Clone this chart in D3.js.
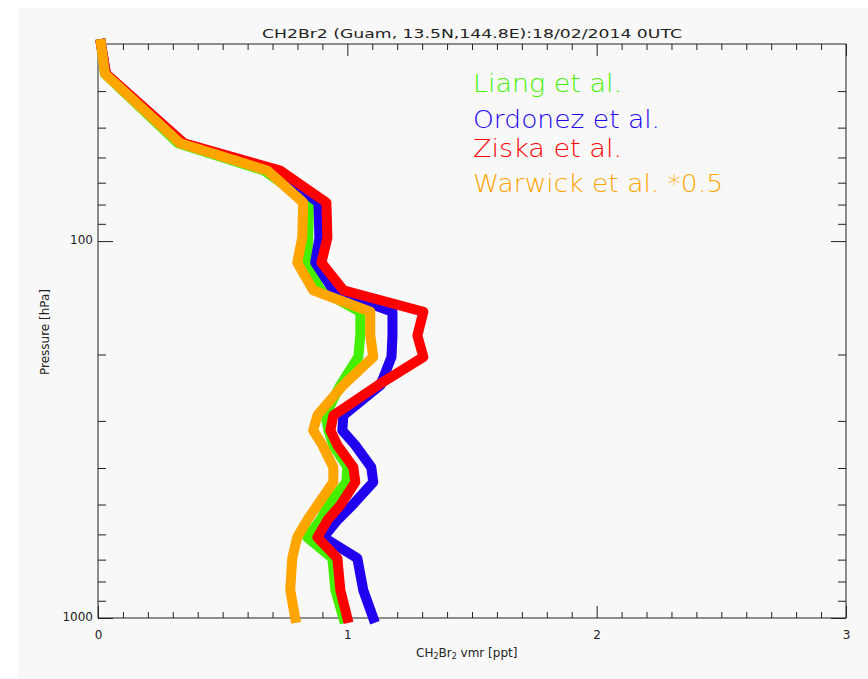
<!DOCTYPE html>
<html>
<head>
<meta charset="utf-8">
<script src="https://cdn.jsdelivr.net/npm/d3@7"></script>
<style>
  html, body { margin: 0; padding: 0; background: #ffffff; }
  svg { display: block; }
  text { font-family: "DejaVu Sans", sans-serif; fill: #222; }
</style>
</head>
<body>
<svg id="chart" width="868" height="679"></svg>
<script>
// Model pressure levels (hPa), top to bottom
const pressure = [30, 36, 55, 65, 79, 98, 114, 135, 154, 178, 203, 241, 290, 318, 348, 398, 436, 502, 550, 611, 694, 844, 1000];

// CH2Br2 volume mixing ratio profiles (ppt) at each level
const liang   = [0.012, 0.028, 0.321, 0.667, 0.847, 0.843, 0.839, 0.892, 1.052, 1.052, 1.044, 0.972, 0.912, 0.924, 0.944, 1.000, 0.996, 0.924, 0.892, 0.839, 0.940, 0.952, 0.984];
const ordonez = [0.012, 0.032, 0.341, 0.711, 0.884, 0.888, 0.871, 0.944, 1.181, 1.181, 1.177, 1.133, 0.984, 0.980, 1.032, 1.096, 1.104, 1.020, 0.960, 0.904, 1.040, 1.064, 1.104];
const ziska   = [0.012, 0.032, 0.345, 0.731, 0.916, 0.920, 0.896, 0.984, 1.305, 1.281, 1.305, 1.124, 0.944, 0.932, 0.960, 1.024, 1.032, 0.972, 0.920, 0.880, 0.960, 0.972, 1.000];
// Warwick profile already multiplied by 0.5
const warwickHalf = [0.012, 0.028, 0.329, 0.679, 0.823, 0.819, 0.799, 0.863, 1.092, 1.092, 1.104, 0.984, 0.880, 0.863, 0.900, 0.944, 0.944, 0.880, 0.839, 0.799, 0.779, 0.771, 0.791];

const seriesNames  = ["Liang et al.", "Ordonez et al.", "Ziska et al.", "Warwick et al. *0.5"];
const seriesColors = ["#44f000", "#2000ee", "#ff0000", "#ffa500"];
const seriesValues = [liang, ordonez, ziska, warwickHalf];

const xMajorTicks = [0, 1, 2, 3];
const xMinorTicks = d3.range(0, 31).filter(i => i % 10 !== 0).map(i => i / 10);
const yMajorTicks = [100, 1000];
const yMinorTicks = [40, 50, 60, 70, 80, 90, 200, 300, 400, 500, 600, 700, 800, 900];

const titleText = "CH2Br2 (Guam, 13.5N,144.8E):18/02/2014 0UTC";

const svg = d3.select("#chart");

// light grey canvas
svg.append("rect").attr("x", 18).attr("y", 8).attr("width", 850).attr("height", 671).attr("fill", "#f8f8f8");

const plot = { left: 98, right: 846, top: 44, bottom: 618 };
const x = d3.scaleLinear().domain([0, 3]).range([plot.left, plot.right]);
const y = d3.scaleLog().domain([30, 1000]).range([plot.top, plot.bottom]);

const axisColor = "#222";
function styleAxis(g, withLabels) {
  g.select(".domain").remove();
  g.selectAll(".tick line").attr("stroke", axisColor).attr("stroke-width", 1);
  g.selectAll(".tick text").attr("font-size", 12).attr("fill", axisColor)
   .attr("font-family", "DejaVu Sans, sans-serif");
  if (!withLabels) g.selectAll(".tick text").remove();
}

// bottom axis
svg.append("g").attr("transform", `translate(0,${plot.bottom})`)
  .call(d3.axisBottom(x).tickValues(xMajorTicks).tickSize(-12).tickPadding(12).tickFormat(d3.format("d")))
  .call(g => styleAxis(g, true));
svg.append("g").attr("transform", `translate(0,${plot.bottom})`)
  .call(d3.axisBottom(x).tickValues(xMinorTicks).tickSize(-6))
  .call(g => styleAxis(g, false));
// top axis
svg.append("g").attr("transform", `translate(0,${plot.top})`)
  .call(d3.axisTop(x).tickValues(xMajorTicks).tickSize(-12))
  .call(g => styleAxis(g, false));
svg.append("g").attr("transform", `translate(0,${plot.top})`)
  .call(d3.axisTop(x).tickValues(xMinorTicks).tickSize(-6))
  .call(g => styleAxis(g, false));
// left axis
svg.append("g").attr("transform", `translate(${plot.left},0)`)
  .call(d3.axisLeft(y).tickValues(yMajorTicks).tickSize(-15).tickPadding(5).tickFormat(d3.format("d")))
  .call(g => styleAxis(g, true))
  .call(g => g.selectAll(".tick text").attr("dy", "0.2em"));
svg.append("g").attr("transform", `translate(${plot.left},0)`)
  .call(d3.axisLeft(y).tickValues(yMinorTicks).tickSize(-8))
  .call(g => styleAxis(g, false));
// right axis
svg.append("g").attr("transform", `translate(${plot.right},0)`)
  .call(d3.axisRight(y).tickValues(yMajorTicks).tickSize(-15))
  .call(g => styleAxis(g, false));
svg.append("g").attr("transform", `translate(${plot.right},0)`)
  .call(d3.axisRight(y).tickValues(yMinorTicks).tickSize(-8))
  .call(g => styleAxis(g, false));

// frame
svg.append("rect").attr("x", plot.left).attr("y", plot.top)
  .attr("width", plot.right - plot.left).attr("height", plot.bottom - plot.top)
  .attr("fill", "none").attr("stroke", axisColor).attr("stroke-width", 1);

// profiles
const line = d3.line().x(d => x(d[0])).y(d => y(d[1]));
seriesValues.forEach((vals, i) => {
  svg.append("path")
    .datum(vals.map((v, k) => [v, pressure[k]]))
    .attr("d", line)
    .attr("fill", "none")
    .attr("stroke", seriesColors[i])
    .attr("stroke-width", 10)
    .attr("stroke-linejoin", "round")
    .attr("stroke-linecap", "square");
});

// title
svg.append("text").attr("x", 262).attr("y", 38)
  .attr("font-size", 13).attr("textLength", 420).attr("lengthAdjust", "spacingAndGlyphs")
  .text(titleText);

// axis titles
const xt = svg.append("text").attr("x", 416).attr("y", 657).attr("font-size", 12);
xt.append("tspan").text("CH");
xt.append("tspan").attr("font-size", 8).attr("dy", 2).text("2");
xt.append("tspan").attr("dy", -2).text("Br");
xt.append("tspan").attr("font-size", 8).attr("dy", 2).text("2");
xt.append("tspan").attr("dy", -2).text(" vmr [ppt]");

svg.append("text").attr("transform", "translate(49,332) rotate(-90)")
  .attr("text-anchor", "middle").attr("font-size", 12).text("Pressure [hPa]");

// legend
const legendBaselines = [92, 128, 157, 192];
const legendWidths = [149, 187, 149, 250];
seriesNames.forEach((name, i) => {
  svg.append("text").attr("x", 473).attr("y", legendBaselines[i])
    .attr("font-size", 24).attr("font-weight", 300)
    .attr("textLength", legendWidths[i]).attr("lengthAdjust", "spacingAndGlyphs")
    .style("fill", seriesColors[i]).text(name);
});
</script>
</body>
</html>
